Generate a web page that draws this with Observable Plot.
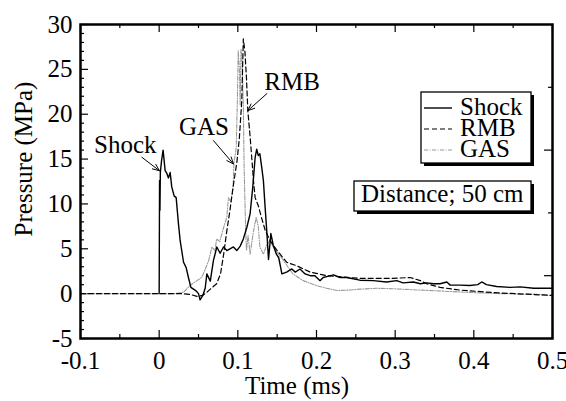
<!DOCTYPE html>
<html><head><meta charset="utf-8">
<script src="https://cdn.jsdelivr.net/npm/d3@7"></script>
<script src="https://cdn.jsdelivr.net/npm/@observablehq/plot@0.6"></script>
<style>body{margin:0;background:#fff} #chart{width:566px;height:401px} svg text{font-family:'Liberation Serif','DejaVu Serif',serif !important}</style>
</head><body><div id="chart"></div>
<script>
// ---- data (time in ms, pressure in MPa) ----
const shockT = [0,0.0005,0.001,0.0015,0.003,0.005,0.0076,0.0098,0.0118,0.014,0.016,0.019,0.0216,0.0245,0.0267,0.031,0.0343,0.0372,0.0403,0.0436,0.047,0.05,0.052,0.0555,0.0585,0.0606,0.065,0.069,0.0733,0.0775,0.0817,0.086,0.09,0.0944,0.0987,0.103,0.107,0.1115,0.1156,0.119,0.122,0.124,0.126,0.128,0.1305,0.1325,0.1347,0.137,0.139,0.142,0.145,0.149,0.152,0.156,0.162,0.1686,0.173,0.179,0.1855,0.192,0.198,0.2045,0.2085,0.213,0.2215,0.23,0.2385,0.255,0.272,0.289,0.302,0.31,0.323,0.332,0.34,0.349,0.357,0.3656,0.37,0.3825,0.395,0.405,0.41,0.416,0.429,0.446,0.459,0.476,0.5];
const shockP = [0,12.6,9.3,13.5,14.8,16.0,13.7,13.4,12.9,13.5,11.9,10.9,10.7,7.8,5.9,3.5,2.9,1.8,0.7,0.5,0.3,0,-0.7,-0.2,0.6,2.2,1.4,3.7,5.2,4.5,5.2,4.8,5.0,5.2,4.8,5.3,6.1,7.4,8.9,11.9,15.2,16.1,15.4,15.6,14.0,12.6,9.6,6.7,3.8,6.7,5.4,4.4,4.0,2.2,2.4,2.75,2.4,2.75,2.2,2.0,2.0,1.45,1.8,1.9,2.1,1.8,1.8,1.5,1.45,1.3,1.45,1.2,1.3,1.1,1.2,1.1,1.1,1.3,0.95,0.95,0.9,1.0,1.3,1.0,0.8,0.7,0.75,0.6,0.6];

const rmbT = [-0.1,0.03,0.04,0.048,0.055,0.06,0.065,0.073,0.078,0.082,0.086,0.09,0.094,0.099,0.102,0.105,0.107,0.109,0.111,0.1127,0.1156,0.118,0.12,0.122,0.126,0.13,0.135,0.141,0.15,0.162,0.175,0.192,0.213,0.255,0.297,0.319,0.332,0.34,0.357,0.382,0.412,0.433,0.475,0.5];
const rmbP = [0,0,-0.1,-0.3,-0.2,0.1,0.5,1.1,2.2,4.4,7.0,9.3,11.9,14.8,17.4,21.5,28.4,27,24,20.4,17.5,14.8,12.5,10.7,9.8,8.5,7.0,5.9,4.8,3.5,3.1,2.4,2.0,1.7,1.7,1.8,1.45,1.1,0.7,0.4,0.2,0.08,-0.1,-0.2];

const gasT = [-0.1,0.02,0.031,0.039,0.044,0.048,0.054,0.058,0.063,0.067,0.071,0.073,0.077,0.082,0.086,0.088,0.091,0.094,0.095,0.098,0.0995,0.1005,0.102,0.103,0.104,0.1055,0.107,0.108,0.109,0.11,0.111,0.113,0.1156,0.12,0.1233,0.126,0.128,0.1326,0.137,0.141,0.145,0.15,0.158,0.17,0.183,0.2,0.213,0.226,0.243,0.255,0.276,0.297,0.319,0.349,0.391,0.433,0.475,0.5];
const gasP = [0,0,0.15,0.9,1.2,1.45,1.8,2.6,3.7,5.2,4.8,6.1,5.8,7.4,8.5,10.7,10.2,11.9,14.5,16.3,22,27.1,25,21,27.3,26,20.8,14,10.4,7,4.8,6.5,4.4,7.0,8.5,7.5,5.2,4.4,5.5,5.9,5.2,4.6,3.7,2.2,1.45,0.9,0.6,0.35,0.4,0.5,0.6,0.55,0.45,0.33,0.15,0,-0.05,-0.2];

const seriesNames = ["Shock", "RMB", "GAS"];
const xTicks = [-0.1, 0, 0.1, 0.2, 0.3, 0.4, 0.5];
const xMinor = [-0.05, 0.05, 0.15, 0.25, 0.35, 0.45];
const yTicks = [-5, 0, 5, 10, 15, 20, 25, 30];
const yMinor = [-4,-3,-2,-1,1,2,3,4,6,7,8,9,11,12,13,14,16,17,18,19,21,22,23,24,26,27,28,29];
const yRightLong = [2, 16];
const yRightShort = [9, 23];
const annLabels = ["Shock", "GAS", "RMB"];
const annTextT = [-0.043, 0.057, 0.169];
const annTextP = [16.6, 18.6, 23.6];
const annFromT = [-0.022, 0.069, 0.137];
const annFromP = [15.2, 17.06, 22.3];
const annToT = [0.0004, 0.0944, 0.1127];
const annToP = [13.7, 14.46, 20.4];
const xTitle = "Time (ms)";
const yTitle = "Pressure (MPa)";
const noteText = "Distance; 50 cm";

// ---- build tables ----
const toRows = (T, P) => T.map((t, i) => ({t, p: P[i]}));
const shock = toRows(shockT, shockP);
const rmb = toRows(rmbT, rmbP);
const gas = toRows(gasT, gasP);
const ann = annLabels.map((label, i) => ({label, tx: annTextT[i], ty: annTextP[i], x1: annFromT[i], y1: annFromP[i], x2: annToT[i], y2: annToP[i]}));

const W = 566, H = 401, mL = 80, mR = 14, mT = 24, mB = 63;
const fw = W - mL - mR, fh = H - mT - mB;
const FONT = "'Liberation Serif', 'DejaVu Serif', serif";
const styles = {
  Shock: {stroke: "#000", strokeWidth: 1.4, dash: null},
  RMB: {stroke: "#000", strokeWidth: 1.2, dash: "5,3"},
  GAS: {stroke: "#9a9a9a", strokeWidth: 1.1, dash: "4,1.5,1,1.5"}
};

const fmt = d => String(d);
const plot = Plot.plot({
  width: W, height: H,
  marginLeft: mL, marginRight: mR, marginTop: mT, marginBottom: mB,
  style: {fontFamily: FONT, fontSize: "25px", color: "#000", background: "#fff", overflow: "visible"},
  x: {domain: [-0.1, 0.5]},
  y: {domain: [-5, 30]},
  marks: [
    Plot.axisX(xTicks, {tickSize: 0, tickPadding: 13, tickFormat: fmt, fontSize: 25, label: null}),
    Plot.axisY(yTicks, {tickSize: 0, tickPadding: 8, tickFormat: fmt, fontSize: 25, label: null}),
    Plot.tickX(xTicks, {insetTop: fh - 8, stroke: "#000", strokeWidth: 1.2}),
    Plot.tickX(xMinor, {insetTop: fh - 4, stroke: "#000", strokeWidth: 1.2}),
    Plot.tickX(xTicks, {insetBottom: fh - 8, stroke: "#000", strokeWidth: 1.2}),
    Plot.tickX(xMinor, {insetBottom: fh - 4, stroke: "#000", strokeWidth: 1.2}),
    Plot.tickY(yTicks, {insetRight: fw - 8, stroke: "#000", strokeWidth: 1.2}),
    Plot.tickY(yMinor, {insetRight: fw - 4, stroke: "#000", strokeWidth: 1.2}),
    Plot.tickY(yRightLong, {insetLeft: fw - 8, stroke: "#000", strokeWidth: 1.2}),
    Plot.tickY(yRightShort, {insetLeft: fw - 4, stroke: "#000", strokeWidth: 1.2}),
    Plot.line(gas, {x: "t", y: "p", stroke: styles.GAS.stroke, strokeWidth: styles.GAS.strokeWidth, strokeDasharray: styles.GAS.dash}),
    Plot.line(rmb, {x: "t", y: "p", stroke: styles.RMB.stroke, strokeWidth: styles.RMB.strokeWidth, strokeDasharray: styles.RMB.dash}),
    Plot.line(shock, {x: "t", y: "p", stroke: styles.Shock.stroke, strokeWidth: styles.Shock.strokeWidth}),
    Plot.arrow(ann, {x1: "x1", y1: "y1", x2: "x2", y2: "y2", stroke: "#000", strokeWidth: 1, headLength: 11, headAngle: 45}),
    Plot.text(ann, {x: "tx", y: "ty", text: "label", fontSize: 25, fill: "#000", textAnchor: "middle"}),
    Plot.frame({stroke: "#000", strokeWidth: 2.5})
  ]
});

const svg = d3.select(plot);
svg.append("text").attr("x", 297).attr("y", 394).attr("text-anchor", "middle")
  .attr("font-family", FONT).attr("font-size", 25).attr("fill", "#000").text(xTitle);
svg.append("text").attr("transform", "translate(32,159) rotate(-90)").attr("text-anchor", "middle")
  .attr("font-family", FONT).attr("font-size", 25).attr("fill", "#000").text(yTitle);

function shadowBox(x, y, w, h) {
  svg.append("rect").attr("x", x + 3).attr("y", y + 3).attr("width", w).attr("height", h).attr("fill", "#000");
  svg.append("rect").attr("x", x).attr("y", y).attr("width", w).attr("height", h)
    .attr("fill", "#fff").attr("stroke", "#000").attr("stroke-width", 1.3);
}
shadowBox(421, 92, 110, 71);
seriesNames.forEach((name, i) => {
  const base = 115 + i * 21;
  const s = styles[name];
  svg.append("line").attr("x1", 424).attr("x2", 452).attr("y1", base - 7).attr("y2", base - 7)
    .attr("stroke", s.stroke).attr("stroke-width", s.strokeWidth).attr("stroke-dasharray", s.dash);
  svg.append("text").attr("x", 460).attr("y", base).attr("text-anchor", "start")
    .attr("font-family", FONT).attr("font-size", 25).attr("fill", "#000").text(name);
});
shadowBox(354, 181, 177, 30);
svg.append("text").attr("x", 361).attr("y", 202).attr("text-anchor", "start")
  .attr("font-family", FONT).attr("font-size", 25).attr("fill", "#000").text(noteText);

document.getElementById("chart").appendChild(plot);
</script>
</body></html>
